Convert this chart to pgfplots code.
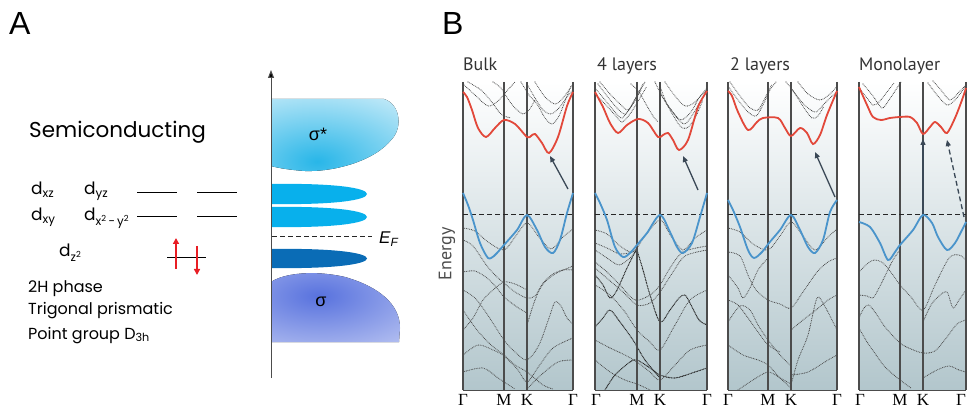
\documentclass[border=0pt]{standalone}
\usepackage{pgfplots}
\pgfplotsset{compat=1.18}
\usetikzlibrary{arrows.meta}
\usepackage{fontspec}
\setmainfont{Liberation Sans}
\newfontfamily\pop{Poppins}
\newfontfamily\pts{PT Sans}
\newfontfamily\tser{Liberation Serif}
\definecolor{cbred}{RGB}{226,72,58}
\definecolor{vbblue}{RGB}{74,148,203}
\definecolor{bgb}{RGB}{178,198,204}
\definecolor{lobe}{RGB}{8,176,236}
\definecolor{lobed}{RGB}{10,108,182}
\definecolor{sigs}{RGB}{40,182,232}
\definecolor{sigso}{RGB}{232,246,252}
\definecolor{sig}{RGB}{88,114,222}
\definecolor{sigo}{RGB}{236,239,252}
\definecolor{arr}{RGB}{58,72,86}
\definecolor{dots}{RGB}{72,72,72}
\definecolor{spinred}{RGB}{232,30,36}
\pgfplotsset{
  panel/.style={anchor=south west, scale only axis, height=308pt, ymin=82, ymax=390, y dir=reverse, xmin=0,
    axis line style={draw=none}, xtick=\empty, ytick=\empty, clip=false,
    axis background/.style={top color=white, bottom color=bgb}},
  db/.style={smooth, draw=dots, line cap=round, dash pattern=on 0pt off 1.7pt, line width=1.1pt, forget plot},
  dbb/.style={db, draw=black!85, line width=1.35pt, dash pattern=on 0pt off 1.6pt},
  cb/.style={smooth, draw=cbred, line width=1.8pt, forget plot},
  vb/.style={smooth, draw=vbblue, line width=1.8pt, forget plot},
}
\tikzset{
  frm/.style={draw=gray!60!black, line width=1.1pt},
  ef/.style={draw=black!85, line width=1pt, dash pattern=on 5pt off 3pt},
  arrst/.style={draw=arr, line width=1.3pt, -{Triangle[length=6pt,width=5pt]}},
  kl/.style={anchor=base, inner sep=0, font=\tser\fontsize{17}{17}\selectfont},
}
\newcommand{\frames}[3]{%
  \draw[frm] (axis cs:0,82) -- (axis cs:0,390);
  \draw[frm] (axis cs:#1,82) -- (axis cs:#1,390);
  \draw[frm] (axis cs:#2,82) -- (axis cs:#2,390);
  \draw[frm] (axis cs:#3,82) -- (axis cs:#3,390);
  \draw[draw=gray!60!black, line width=0.8pt] (axis cs:0,390) -- (axis cs:#3,390);
  \draw[ef] (axis cs:0,215) -- (axis cs:#3,215);
}
\begin{document}
\begin{tikzpicture}
\useasboundingbox (0pt,0pt) rectangle (967pt,414pt);
% ---------------- main canvas (panel A + labels) ----------------
\begin{axis}[at={(0pt,0pt)}, anchor=south west, width=967pt, height=414pt, scale only axis,
  xmin=0, xmax=967, ymin=0, ymax=414, y dir=reverse, hide axis, clip=false]
\fill[path picture={\shade[inner color=sigs, outer color=sigso] ([xshift=-20pt,yshift=-26pt]path picture bounding box.center) ellipse (170pt and 95pt);}]
  (axis cs:271,99) -- (axis cs:384,99) .. controls (axis cs:400,104) and (axis cs:403,127) .. (axis cs:392,139) .. controls (axis cs:374,162) and (axis cs:332,172) .. (axis cs:305,171) .. controls (axis cs:290,170) and (axis cs:278,168) .. (axis cs:271,166) -- cycle;
\fill[path picture={\shade[inner color=sig, outer color=sigo] ([xshift=-17pt,yshift=10pt]path picture bounding box.center) ellipse (210pt and 100pt);}]
  (axis cs:271,342) -- (axis cs:271,282) .. controls (axis cs:284,273) and (axis cs:315,270) .. (axis cs:345,277) .. controls (axis cs:380,287) and (axis cs:400,305) .. (axis cs:400,328) -- (axis cs:399,342) -- cycle;
\fill[lobe] (axis cs:271,184) .. controls (axis cs:335,183) and (axis cs:367,188) .. (axis cs:367,194) .. controls (axis cs:367,200) and (axis cs:335,205) .. (axis cs:271,204) -- cycle;
\fill[lobe] (axis cs:271,207) .. controls (axis cs:335,206) and (axis cs:367,211) .. (axis cs:367,217) .. controls (axis cs:367,223) and (axis cs:335,228) .. (axis cs:271,227) -- cycle;
\fill[lobed] (axis cs:271,249) .. controls (axis cs:335,248) and (axis cs:367,253) .. (axis cs:367,258.5) .. controls (axis cs:367,264) and (axis cs:335,269) .. (axis cs:271,268) -- cycle;
\draw[draw=gray!60!black, line width=1pt, -{Triangle[length=8pt,width=6pt,fill=black]}] (axis cs:271,378) -- (axis cs:271,70);
\draw[ef] (axis cs:272,237) -- (axis cs:372,237);
\node[anchor=west, inner sep=0] at (axis cs:379,239) {\fontsize{17}{17}\selectfont\itshape E\textsubscript{F}};
\node[inner sep=0] at (axis cs:318,134) {\fontsize{18}{18}\selectfont σ*};
\node[inner sep=0] at (axis cs:321,302) {\fontsize{18}{18}\selectfont σ};
% orbital levels
\draw[line width=1pt] (axis cs:137,193) -- (axis cs:177,193);
\draw[line width=1pt] (axis cs:197,193) -- (axis cs:237,193);
\draw[line width=1pt] (axis cs:137,217) -- (axis cs:177,217);
\draw[line width=1pt] (axis cs:197,217) -- (axis cs:237,217);
\draw[line width=1pt] (axis cs:167,258) -- (axis cs:206,258);
\draw[draw=spinred, line width=1.4pt, -{Triangle[length=6pt,width=6pt]}] (axis cs:176,269) -- (axis cs:176,238);
\draw[draw=spinred, line width=1.4pt, -{Triangle[length=6pt,width=6pt]}] (axis cs:197,246) -- (axis cs:197,275);
% texts
\node[anchor=base west, inner sep=0] at (axis cs:9,35) {\fontsize{32}{32}\selectfont A};
\node[anchor=base west, inner sep=0] at (axis cs:442,35) {\fontsize{32}{32}\selectfont B};
\node[anchor=base west, inner sep=0] at (axis cs:29,138) {\pop\fontsize{21.5}{21.5}\selectfont Semiconducting};
\node[anchor=base west, inner sep=0] at (axis cs:31,195) {\pop\fontsize{17}{17}\selectfont d\textsubscript{xz}};
\node[anchor=base west, inner sep=0] at (axis cs:84,195) {\pop\fontsize{17}{17}\selectfont d\textsubscript{yz}};
\node[anchor=base west, inner sep=0] at (axis cs:31,221) {\pop\fontsize{17}{17}\selectfont d\textsubscript{xy}};
\node[anchor=base west, inner sep=0] at (axis cs:84,221) {\pop\fontsize{17}{17}\selectfont d\textsubscript{x\textsuperscript{2}\,-\,y\textsuperscript{2}}};
\node[anchor=base west, inner sep=0] at (axis cs:59,257) {\pop\fontsize{17}{17}\selectfont d\textsubscript{z\textsuperscript{2}}};
\node[anchor=base west, inner sep=0] at (axis cs:28,292) {\pop\fontsize{16}{16}\selectfont 2H phase};
\node[anchor=base west, inner sep=0] at (axis cs:28,315) {\pop\fontsize{16}{16}\selectfont Trigonal prismatic};
\node[anchor=base west, inner sep=0] at (axis cs:28,339) {\pop\fontsize{16}{16}\selectfont Point group D\textsubscript{3h}};
% panel B titles and labels
\node[anchor=base west, inner sep=0, text=black!80] at (axis cs:463,71) {\pts\fontsize{18}{18}\selectfont Bulk};
\node[anchor=base west, inner sep=0, text=black!80] at (axis cs:597,71) {\pts\fontsize{18}{18}\selectfont 4 layers};
\node[anchor=base west, inner sep=0, text=black!80] at (axis cs:730,71) {\pts\fontsize{18}{18}\selectfont 2 layers};
\node[anchor=base west, inner sep=0, text=black!80] at (axis cs:859,71) {\pts\fontsize{18}{18}\selectfont Monolayer};
\node[rotate=90, inner sep=0, text=black!70] at (axis cs:447,254) {\pts\fontsize{18}{18}\selectfont Energy};
\node[kl] at (axis cs:463,405) {Γ};
\node[kl] at (axis cs:504,405) {M};
\node[kl] at (axis cs:527,405) {K};
\node[kl] at (axis cs:573,405) {Γ};
\node[kl] at (axis cs:596,405) {Γ};
\node[kl] at (axis cs:637,405) {M};
\node[kl] at (axis cs:660,405) {K};
\node[kl] at (axis cs:707,405) {Γ};
\node[kl] at (axis cs:728,405) {Γ};
\node[kl] at (axis cs:768,405) {M};
\node[kl] at (axis cs:791,405) {K};
\node[kl] at (axis cs:837,405) {Γ};
\node[kl] at (axis cs:860,405) {Γ};
\node[kl] at (axis cs:900,405) {M};
\node[kl] at (axis cs:923,405) {K};
\node[kl] at (axis cs:961,405) {Γ};
\end{axis}
% ---------------- Bulk ----------------
\begin{axis}[panel, at={(463pt,24pt)}, width=110pt, xmax=110]
\addplot[db] coordinates {(0,84) (12,95) (25,106) (35,101) (42,93) (52,82)};
\addplot[db] coordinates {(5,82) (18,90) (28,101) (36,112) (41,116) (48,118)};
\addplot[db] coordinates {(30,82) (38,88) (45,99) (52,108) (60,114) (66,110) (72,100)};
\addplot[db] coordinates {(64,84) (72,98) (80,110) (88,114) (96,108) (104,97) (110,90)};
\addplot[db] coordinates {(72,82) (82,97) (92,104) (100,98) (110,84)};
\addplot[db] coordinates {(58,82) (66,95) (74,104) (82,118) (89,124) (96,116) (104,96) (108,86)};
\addplot[db] coordinates {(0,228) (12,231) (25,242) (41,250) (52,237) (64,223) (76,237) (88,249) (100,237) (110,229)};
\addplot[db] coordinates {(0,240) (10,246) (24,266) (34,277) (41,283) (52,292) (64,298) (72,296) (80,283) (90,274) (100,270) (110,270)};
\addplot[db] coordinates {(0,272) (12,271) (24,278) (33,287) (41,297) (54,307) (64,313)};
\addplot[db] coordinates {(64,325) (72,300) (80,284) (92,274) (110,266)};
\addplot[db] coordinates {(0,330) (10,318) (20,300) (30,290) (41,282) (52,284) (64,290)};
\addplot[db] coordinates {(0,290) (12,298) (24,314) (41,340) (52,352) (64,360) (76,345) (86,318) (92,302) (98,306) (104,318) (110,324)};
\addplot[db] coordinates {(0,355) (15,345) (30,350) (41,356) (55,370) (64,382) (76,366) (90,348) (110,338)};
\addplot[db] coordinates {(0,372) (20,368) (35,378) (41,382) (52,389)};
\addplot[db] coordinates {(64,389) (78,375) (95,362) (110,360)};
\addplot[db] coordinates {(0,310) (14,330) (28,345) (41,355) (52,365) (64,372) (80,385) (90,389)};
\frames{41}{64}{110}
\addplot[vb] coordinates {(0,193) (5,205) (10,220) (17,243) (25,258) (31,256) (34,253) (41,245) (54,230) (64,215) (74,230) (82,247) (90,253) (97,240) (104,213) (110,193)};
\addplot[cb] coordinates {(0,92) (4,97) (9,110) (15,128) (23,137) (32,128) (41,120) (52,124) (64,137) (68,136) (72,134) (79,143) (86,153) (95,137) (104,106) (110,92)};
\draw[arrst] (axis cs:105,189) -- (axis cs:87,156);
\end{axis}
% ---------------- 4 layers ----------------
\begin{axis}[panel, at={(595pt,24pt)}, width=112pt, xmax=112]
\addplot[db] coordinates {(0,88) (10,100) (20,112) (27,118) (35,108) (42,96) (50,82)};
\addplot[db] coordinates {(0,94) (10,104) (20,115) (27,122) (35,114) (42,103) (52,86)};
\addplot[db] coordinates {(3,84) (12,96) (22,108) (30,114) (38,104) (46,90)};
\addplot[db] coordinates {(5,82) (15,94) (25,104) (33,110) (40,99) (48,84)};
\addplot[db] coordinates {(36,84) (44,92) (52,106) (58,116) (63,122)};
\addplot[db] coordinates {(60,82) (68,98) (78,112) (86,120) (96,112) (104,98) (112,90)};
\addplot[db] coordinates {(65,86) (72,104) (82,118) (90,124) (98,114) (106,100)};
\addplot[db] coordinates {(66,94) (75,110) (85,126) (92,128) (100,118) (108,100)};
\addplot[db] coordinates {(70,82) (80,96) (90,106) (100,102) (112,88)};
\addplot[db] coordinates {(0,230) (12,234) (25,246) (38,252) (50,236) (65,220) (76,236) (88,250) (100,238) (112,230)};
\addplot[db] coordinates {(0,243) (12,248) (25,254) (38,252)};
\addplot[db] coordinates {(0,250) (12,258) (24,265) (35,258) (42,250)};
\addplot[dbb] coordinates {(0,275) (8,285) (15,298) (22,290) (32,268) (42,248)};
\addplot[dbb] coordinates {(0,327) (8,318) (15,310) (25,322) (38,340) (50,360) (65,378)};
\addplot[dbb] coordinates {(42,250) (48,270) (55,295) (65,322) (75,310) (84,298) (90,295) (96,305) (104,320) (112,325)};
\addplot[db] coordinates {(0,262) (12,272) (25,285) (40,300) (55,295) (65,285) (75,268) (88,252) (112,246)};
\addplot[db] coordinates {(0,268) (14,280) (28,292) (42,305) (55,303) (65,292) (78,272) (90,256) (112,250)};
\addplot[db] coordinates {(0,285) (15,295) (30,312) (42,330) (55,342) (65,350) (80,325) (95,300) (112,290)};
\addplot[db] coordinates {(0,340) (15,348) (30,355) (42,362) (55,372) (65,380) (80,365) (95,350) (112,345)};
\addplot[db] coordinates {(0,360) (15,372) (30,380) (42,384) (55,390)};
\addplot[dbb] coordinates {(10,390) (20,375) (35,362) (42,360) (55,368) (65,375) (80,378) (100,372) (112,368)};
\frames{42}{65}{112}
\addplot[vb] coordinates {(0,193) (5,203) (12,220) (20,247) (28,257) (35,253) (42,245) (52,233) (65,215) (75,232) (82,247) (88,253) (97,243) (105,217) (112,193)};
\addplot[cb] coordinates {(0,92) (8,107) (15,123) (23,133) (32,125) (43,119) (53,123) (63,137) (68,135) (73,133) (78,140) (84,150) (93,140) (103,107) (112,91)};
\draw[arrst] (axis cs:103,190) -- (axis cs:88,156);
\end{axis}
% ---------------- 2 layers ----------------
\begin{axis}[panel, at={(728pt,24pt)}, width=109pt, xmax=109]
\addplot[db] coordinates {(0,86) (10,100) (20,112) (28,116) (35,105) (42,90) (48,82)};
\addplot[db] coordinates {(2,82) (12,96) (22,108) (30,110) (36,100) (44,84)};
\addplot[db] coordinates {(63,88) (72,100) (80,108) (88,112) (96,104) (104,96) (109,92)};
\addplot[db] coordinates {(58,82) (66,92) (76,108) (84,118) (90,116) (96,106)};
\addplot[db] coordinates {(70,82) (80,94) (92,100) (102,94) (109,86)};
\addplot[db] coordinates {(0,228) (12,232) (25,244) (40,250) (52,236) (63,222) (75,236) (87,250) (100,237) (109,229)};
\addplot[db] coordinates {(0,252) (12,256) (20,275) (28,290) (40,300) (52,304) (63,308) (75,292) (89,272) (100,262) (109,258)};
\addplot[db] coordinates {(0,275) (10,288) (15,298) (22,288) (30,270) (40,258)};
\addplot[db] coordinates {(0,322) (12,306) (22,310) (30,325) (40,340) (52,355) (63,366)};
\addplot[db] coordinates {(0,300) (10,305) (20,318) (30,332) (40,345) (52,352)};
\addplot[db] coordinates {(63,385) (70,360) (80,335) (89,298) (96,305) (104,320) (109,330)};
\addplot[db] coordinates {(0,345) (15,355) (30,360) (40,365) (52,378) (63,388)};
\addplot[db] coordinates {(63,330) (75,320) (88,310) (100,300) (109,295)};
\addplot[db] coordinates {(10,390) (25,380) (40,372) (52,378) (63,384)};
\addplot[db] coordinates {(63,375) (80,372) (100,360) (109,355)};
\frames{40}{63}{109}
\addplot[vb] coordinates {(0,200) (5,210) (12,227) (20,250) (26,258) (34,252) (41,243) (52,230) (63,215) (72,230) (80,247) (87,253) (95,240) (102,212) (109,200)};
\addplot[cb] coordinates {(0,91) (4,96) (10,112) (20,130) (29,122) (35,118) (50,118) (57,128) (63,136) (72,128) (79,133) (85,144) (92,135) (99,115) (109,91)};
\draw[arrst] (axis cs:107,197) -- (axis cs:87,152);
\end{axis}
% ---------------- Monolayer ----------------
\begin{axis}[panel, at={(859pt,24pt)}, width=107pt, xmax=107]
\addplot[db] coordinates {(0,88) (8,98) (14,105) (20,102) (28,92) (35,83)};
\addplot[db] coordinates {(4,84) (14,96) (23,108) (30,100) (38,88) (42,82)};
\addplot[db] coordinates {(69,83) (78,95) (88,105) (96,100) (104,90) (107,86)};
\addplot[db] coordinates {(74,81) (82,90) (91,100) (100,92) (106,86)};
\addplot[db] coordinates {(0,272) (8,264) (15,260) (24,263) (34,275) (41,285) (52,297) (64,310) (76,285) (90,258) (100,255) (107,260)};
\addplot[db] coordinates {(0,295) (8,296) (14,298) (20,288) (26,276) (34,260) (41,250)};
\addplot[db] coordinates {(0,318) (5,308) (10,305) (18,315) (26,327) (41,343) (52,349) (64,353) (76,351) (88,337) (98,324) (107,320)};
\addplot[db] coordinates {(0,328) (8,342) (15,352) (26,367) (41,380) (52,388)};
\addplot[db] coordinates {(64,322) (72,305) (80,296) (88,292) (94,308) (100,300) (107,290)};
\addplot[db] coordinates {(64,378) (78,370) (90,366) (100,370) (107,372)};
\frames{41}{64}{107}
\addplot[vb] coordinates {(0,222) (11,227) (21,243) (29,260) (36,252) (41,245) (54,230) (64,215) (73,223) (79,237) (88,250) (96,243) (103,230) (107,222)};
\addplot[cb] coordinates {(0,87) (8,105) (14,117) (22,120) (31,118) (41,117) (51,117) (58,123) (64,134) (71,127) (76,122) (82,127) (88,133) (96,118) (103,100) (107,88)};
\draw[arrst] (axis cs:64,214) -- (axis cs:64,139);
\draw[arrst, dash pattern=on 5pt off 3pt] (axis cs:105,217) -- (axis cs:88,140);
\end{axis}
\end{tikzpicture}
\end{document}
